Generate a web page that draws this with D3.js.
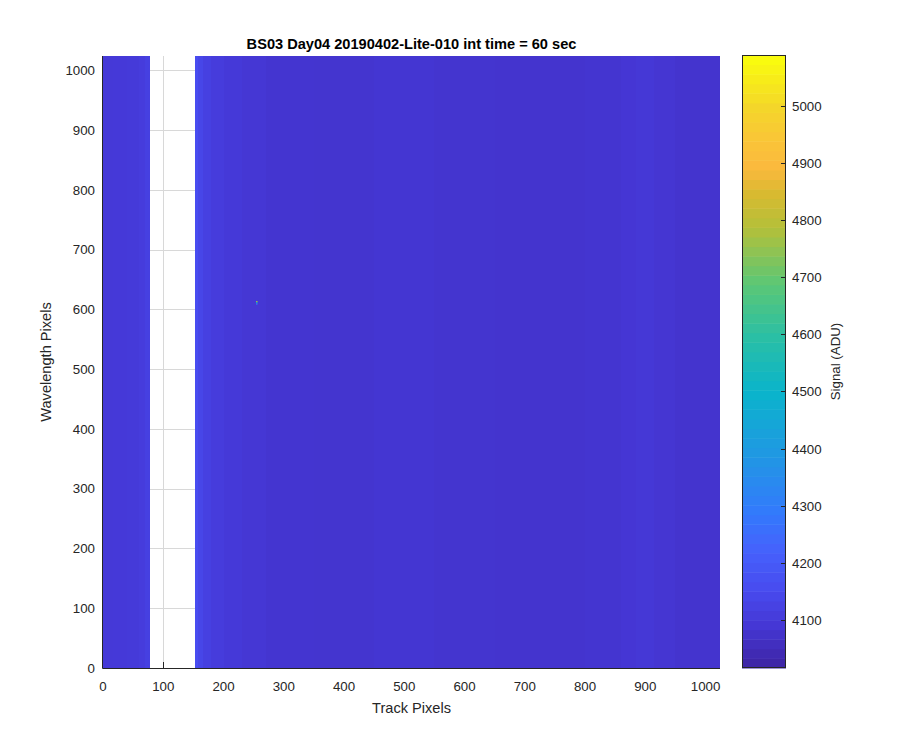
<!DOCTYPE html>
<html>
<head>
<meta charset="utf-8">
<script src="https://cdn.jsdelivr.net/npm/d3@7"></script>
<style>
  html, body { margin: 0; padding: 0; background: #fff; }
  svg { display: block; font-family: "Liberation Sans", Arial, Helvetica, sans-serif; }
</style>
</head>
<body>
<svg id="chart" width="900" height="750"></svg>
<script>
// ---------------- data ----------------
const chartTitle = "BS03 Day04 20190402-Lite-010 int time = 60 sec";
const xLabel = "Track Pixels";
const yLabel = "Wavelength Pixels";
const cbarLabel = "Signal (ADU)";

const trackRange = [0, 1024];
const wavelengthRange = [0, 1024];
const signalRange = [4016, 5089];

const xTicks = [0, 100, 200, 300, 400, 500, 600, 700, 800, 900, 1000];
const yTicks = [0, 100, 200, 300, 400, 500, 600, 700, 800, 900, 1000];
const cbarTicks = [4100, 4200, 4300, 4400, 4500, 4600, 4700, 4800, 4900, 5000];

// column bands of the detector image (track pixel start / end, mean signal); 78-153 is empty (NaN)
const bandStart  = [0,    16,   40,   60,   70,   153,  158,  166,  180,  200,  230,  270,  350,  450,  550,  650,  800,  860,  885,  915,  950];
const bandEnd    = [16,   40,   60,   70,   78,   158,  166,  180,  200,  230,  270,  350,  450,  550,  650,  800,  860,  885,  915,  950,  1024];
const bandSignal = [4088, 4090, 4094, 4100, 4112, 4150, 4130, 4112, 4100, 4090, 4082, 4076, 4074, 4078, 4074, 4072, 4076, 4081, 4085, 4079, 4073];

// hot pixel near (254, 610)
const hotTrack  = [254,  254,  254];
const hotWave   = [612,  610,  608];
const hotSignal = [4760, 4520, 4300];

// parula colormap stops
const cmapStops  = [0, 0.0625, 0.125, 0.1875, 0.25, 0.35, 0.45, 0.54, 0.63, 0.72, 0.78, 0.82, 0.87, 0.92, 1];
const cmapColors = ["#3e26a8", "#4537d5", "#484cf0", "#4562fc", "#337afc", "#1f99e2", "#0ab4cb", "#2abfa5", "#5cc775", "#b3c03a", "#d9ba30", "#fbb83e", "#f9c637", "#f4d62a", "#f9fb0e"];
const nLevels = 64;

// ---------------- layout ----------------
const svg = d3.select("#chart");
const plot = { left: 103, right: 720, top: 56, bottom: 668 };
const cbar = { left: 742, right: 786, top: 55, bottom: 668 };
const textColor = "#262626";
const axisColor = "#262626";

const x = d3.scaleLinear().domain(trackRange).range([plot.left, plot.right]);
const y = d3.scaleLinear().domain(wavelengthRange).range([plot.bottom, plot.top]);
const cmapBase = d3.scaleLinear().domain(cmapStops).range(cmapColors).interpolate(d3.interpolateRgb).clamp(true);
const norm = d3.scaleLinear().domain(signalRange).range([0, 1]).clamp(true);
const colorSmooth = v => cmapBase(norm(v));
function colorLevel(v) {
  let idx = Math.floor(norm(v) * nLevels);
  idx = Math.max(0, Math.min(nLevels - 1, idx));
  return cmapBase(idx / (nLevels - 1));
}

// grid (behind image)
const grid = svg.append("g").attr("stroke", "#d8d8d8").attr("stroke-width", 1);
xTicks.forEach(t => grid.append("line")
  .attr("x1", Math.round(x(t)) + 0.5).attr("x2", Math.round(x(t)) + 0.5)
  .attr("y1", plot.top).attr("y2", plot.bottom));
yTicks.forEach(t => grid.append("line")
  .attr("y1", Math.round(y(t)) + 0.5).attr("y2", Math.round(y(t)) + 0.5)
  .attr("x1", plot.left).attr("x2", plot.right));

// tick marks (inside, behind image)
const tickG = svg.append("g").attr("stroke", axisColor).attr("stroke-width", 1);
xTicks.forEach(t => tickG.append("line")
  .attr("x1", Math.round(x(t)) + 0.5).attr("x2", Math.round(x(t)) + 0.5)
  .attr("y1", plot.bottom).attr("y2", plot.bottom - 6));
yTicks.forEach(t => tickG.append("line")
  .attr("y1", Math.round(y(t)) + 0.5).attr("y2", Math.round(y(t)) + 0.5)
  .attr("x1", plot.left).attr("x2", plot.left + 6));

// image bands
const bands = bandStart.map((s, i) => ({ s, e: bandEnd[i], v: bandSignal[i] }));
svg.append("g").selectAll("rect").data(bands).join("rect")
  .attr("x", d => x(d.s))
  .attr("width", d => x(d.e) - x(d.s) + 0.3)
  .attr("y", y(wavelengthRange[1]))
  .attr("height", y(wavelengthRange[0]) - y(wavelengthRange[1]))
  .attr("fill", d => colorSmooth(d.v))
  .attr("shape-rendering", "crispEdges");

// hot pixel
const hot = hotTrack.map((t, i) => ({ t, w: hotWave[i], v: hotSignal[i] }));
svg.append("g").selectAll("rect").data(hot).join("rect")
  .attr("x", d => x(d.t))
  .attr("width", Math.max(1.5, x(1) - x(0)))
  .attr("y", d => y(d.w + 2))
  .attr("height", y(0) - y(2))
  .attr("fill", d => colorLevel(d.v));

// axis lines (left & bottom)
svg.append("line").attr("x1", plot.left - 0.5).attr("x2", plot.left - 0.5)
  .attr("y1", plot.top).attr("y2", plot.bottom + 0.5)
  .attr("stroke", axisColor).attr("stroke-width", 1);
svg.append("line").attr("x1", plot.left - 0.5).attr("x2", plot.right)
  .attr("y1", plot.bottom + 0.5).attr("y2", plot.bottom + 0.5)
  .attr("stroke", axisColor).attr("stroke-width", 1);

// tick labels
svg.append("g").selectAll("text").data(xTicks).join("text")
  .attr("x", d => x(d)).attr("y", plot.bottom + 23)
  .attr("text-anchor", "middle").attr("font-size", "13.3px").attr("fill", textColor)
  .text(d => d);
svg.append("g").selectAll("text").data(yTicks).join("text")
  .attr("x", plot.left - 8).attr("y", d => y(d)).attr("dy", "0.35em")
  .attr("text-anchor", "end").attr("font-size", "13.3px").attr("fill", textColor)
  .text(d => d);

// axis labels & title
svg.append("text").attr("x", (plot.left + plot.right) / 2).attr("y", 713)
  .attr("text-anchor", "middle").attr("font-size", "14.6px").attr("fill", textColor).text(xLabel);
svg.append("text").attr("transform", `translate(51,${(plot.top + plot.bottom) / 2}) rotate(-90)`)
  .attr("text-anchor", "middle").attr("font-size", "14.6px").attr("fill", textColor).text(yLabel);
svg.append("text").attr("x", (plot.left + plot.right) / 2).attr("y", 49)
  .attr("text-anchor", "middle").attr("font-size", "14.6px").attr("font-weight", "bold").attr("fill", "#000").text(chartTitle);

// colorbar
const cy = d3.scaleLinear().domain(signalRange).range([cbar.bottom, cbar.top]);
const levels = d3.range(nLevels);
const levelVal = i => signalRange[0] + (signalRange[1] - signalRange[0]) * i / nLevels;
svg.append("g").selectAll("rect").data(levels).join("rect")
  .attr("x", cbar.left).attr("width", cbar.right - cbar.left)
  .attr("y", i => cy(levelVal(i + 1)))
  .attr("height", i => cy(levelVal(i)) - cy(levelVal(i + 1)) + 0.5)
  .attr("fill", i => cmapBase(i / (nLevels - 1)));
svg.append("rect").attr("x", cbar.left + 0.5).attr("y", cbar.top + 0.5)
  .attr("width", cbar.right - cbar.left - 1).attr("height", cbar.bottom - cbar.top - 1)
  .attr("fill", "none").attr("stroke", axisColor).attr("stroke-width", 1);
const cbTicks = svg.append("g");
cbarTicks.forEach(t => {
  const yy = Math.round(cy(t)) + 0.5;
  cbTicks.append("line").attr("x1", cbar.right - 5).attr("x2", cbar.right)
    .attr("y1", yy).attr("y2", yy).attr("stroke", axisColor);
  cbTicks.append("text").attr("x", cbar.right + 6).attr("y", yy).attr("dy", "0.35em")
    .attr("font-size", "13.3px").attr("fill", textColor).text(t);
});
svg.append("text").attr("transform", `translate(840,${(cbar.top + cbar.bottom) / 2}) rotate(-90)`)
  .attr("text-anchor", "middle").attr("font-size", "13.3px").attr("fill", textColor).text(cbarLabel);
</script>
</body>
</html>
